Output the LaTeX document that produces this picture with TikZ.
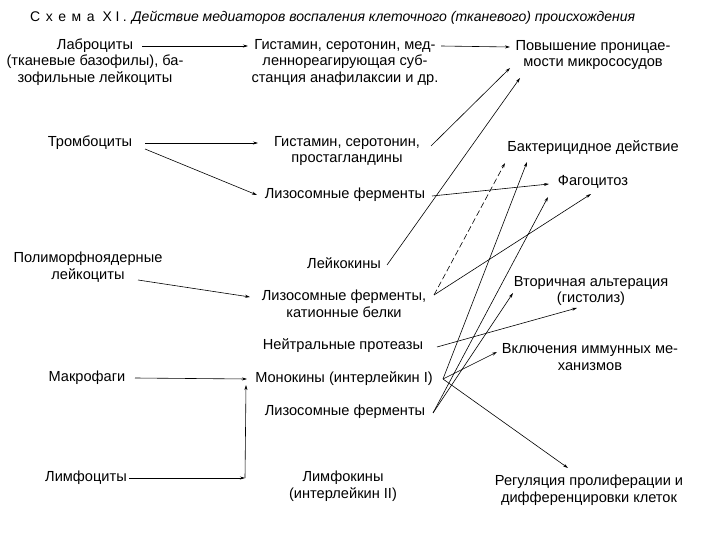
\documentclass[tikz,border=0pt]{standalone}
\usepackage{fontspec}
\setmainfont{Liberation Sans}
\usetikzlibrary{arrows.meta,calc}
\begin{document}
\begin{tikzpicture}[x=1pt,y=-1pt,
  lbl/.style={inner sep=1pt,align=center,font=\fontsize{14.6}{16.5}\selectfont},
  arr/.style={line width=0.6pt,-{Stealth[length=5pt,width=3pt]}},
  ln/.style={line width=0.6pt}]
\useasboundingbox (0,0) rectangle (720,540);
\fill[white] (0,0) rectangle (720,540);
% title
\node[inner sep=0pt,anchor=west,font=\fontsize{14}{16}\selectfont] (title) at (30,18)
 {{\addfontfeature{LetterSpace=40}Схема}\hspace{8pt}{\addfontfeature{LetterSpace=25}XI.}\hspace{5pt}\textit{Действие медиаторов воспаления клеточного (тканевого) происхождения}};
% left column
\node[lbl] (lab) at (95,62) {Лаброциты\\(тканевые базофилы), ба-\\зофильные лейкоциты};
\node[lbl] (trom) at (90,143) {Тромбоциты};
\node[lbl] (poly) at (88,267) {Полиморфноядерные\\лейкоциты};
\node[lbl] (makr) at (87,378) {Макрофаги};
\node[lbl] (lymph) at (86,478) {Лимфоциты};
% middle column
\node[lbl] (gist1) at (345,62) {Гистамин, серотонин, мед-\\леннореагирующая суб-\\станция анафилаксии и др.};
\node[lbl] (gist2) at (347,151) {Гистамин, серотонин,\\простагландины};
\node[lbl] (lys1) at (345,195) {Лизосомные ферменты};
\node[lbl] (leik) at (344,263) {Лейкокины};
\node[lbl] (lys2) at (344,304) {Лизосомные ферменты,\\катионные белки};
\node[lbl] (neut) at (343,346) {Нейтральные протеазы};
\node[lbl] (mono) at (344,379) {Монокины (интерлейкин I)};
\node[lbl] (lys3) at (345,412) {Лизосомные ферменты};
\node[lbl] (lymk) at (343,486) {Лимфокины\\(интерлейкин II)};
% right column
\node[lbl] (pov) at (593,55) {Повышение проницае-\\мости микрососудов};
\node[lbl] (bact) at (593,148) {Бактерицидное действие};
\node[lbl] (fag) at (593,182) {Фагоцитоз};
\node[lbl] (vtor) at (591,291) {Вторичная альтерация\\(гистолиз)};
\node[lbl] (vkl) at (590,357) {Включения иммунных ме-\\ханизмов};
\node[lbl] (reg) at (589,490) {Регуляция пролиферации и\\дифференцировки клеток};
% connectors
\draw[arr] ($(lab)+(47,-16)$) -- ($(gist1)+(-97,-16)$);
\draw[arr] ($(gist1)+(96,-16)$) -- ($(pov)+(-83,-8)$);
\draw[arr] ($(trom)+(55,0)$) -- ($(gist2)+(-89,-8)$);
\draw[arr] ($(trom)+(55,6)$) -- ($(lys1)+(-88,0)$);
\draw[arr] ($(poly)+(50,13)$) -- ($(lys2)+(-94,-7)$);
\draw[arr] ($(makr)+(48,0)$) -- ($(mono)+(-97,0)$);
\coordinate (corner) at ($(lymph)+(159,0)$);
\draw[arr] ($(lymph)+(43,0)$) -- (corner);
\draw[arr] (corner) -- ($(mono)+(-98,6)$);
\draw[arr] ($(gist2)+(84,-5)$) -- ($(pov)+(-83,13)$);
\draw[arr] ($(leik)+(43,2)$) -- ($(pov)+(-73,23)$);
\draw[arr] ($(lys1)+(87,1)$) -- ($(fag)+(-44,2)$);
\draw[arr,dashed,dash pattern=on 6pt off 3pt] ($(lys2)+(90,-9)$) -- ($(bact)+(-88,15)$);
\draw[arr] ($(lys2)+(90,-9)$) -- ($(fag)+(-2,12)$);
\draw[arr] ($(neut)+(94,1)$) -- ($(vtor)+(-14,17)$);
\draw[arr] ($(mono)+(99,0)$) -- ($(bact)+(-66,14)$);
\draw[arr] ($(mono)+(99,0)$) -- ($(vkl)+(-93,-5)$);
\draw[arr] ($(mono)+(99,0)$) -- ($(reg)+(-21,-22)$);
\draw[arr] ($(lys3)+(88,1)$) -- ($(fag)+(-45,15)$);
\draw[arr] ($(lys3)+(88,1)$) -- ($(vtor)+(-78,2)$);
\end{tikzpicture}
\end{document}
